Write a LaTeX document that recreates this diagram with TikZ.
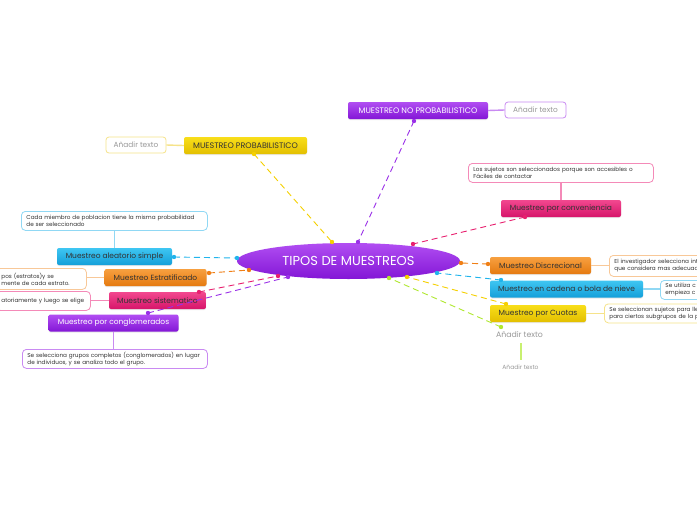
\documentclass[tikz,border=0pt]{standalone}
\usepackage{fontspec}
\setmainfont{Poppins}
\usetikzlibrary{shapes.geometric,shadows}
\definecolor{purT}{HTML}{B14EF2}\definecolor{purB}{HTML}{8316D6}
\definecolor{yelT}{HTML}{F8DE1A}\definecolor{yelB}{HTML}{E3BF00}
\definecolor{pinT}{HTML}{F2488F}\definecolor{pinB}{HTML}{D6156A}
\definecolor{oraT}{HTML}{F7A040}\definecolor{oraB}{HTML}{E57A10}
\definecolor{bluT}{HTML}{3FC6F2}\definecolor{bluB}{HTML}{149FD9}
\definecolor{bluL}{HTML}{90D8F4}\definecolor{oraL}{HTML}{F8C898}
\definecolor{pinL}{HTML}{F48AB8}\definecolor{purL}{HTML}{C98AF2}
\definecolor{yelL}{HTML}{F6E38A}\definecolor{greL}{HTML}{C8F070}
\definecolor{bluD}{HTML}{20B4EC}\definecolor{oraD}{HTML}{F07F15}
\definecolor{pinD}{HTML}{E8206F}\definecolor{purD}{HTML}{9A30E8}
\definecolor{yelD}{HTML}{F5D000}\definecolor{greD}{HTML}{B0E830}
\definecolor{txt}{HTML}{333333}\definecolor{gtx}{HTML}{999999}
\begin{document}
\begin{tikzpicture}[x=1pt,y=-1pt,
  topic/.style={rounded corners=2pt, minimum height=17, inner sep=0pt,
    font=\fontsize{7.5}{8}\selectfont, text=txt,
    drop shadow={opacity=0.18, shadow xshift=0pt, shadow yshift=-1pt}},
  capsfont/.style={font=\fontsize{8}{9}\selectfont},
  tblue/.style={topic, top color=bluT, bottom color=bluB},
  torange/.style={topic, top color=oraT, bottom color=oraB},
  tpink/.style={topic, top color=pinT, bottom color=pinB},
  tpurple/.style={topic, top color=purT, bottom color=purB, text=white},
  tyellow/.style={topic, top color=yelT, bottom color=yelB},
  note/.style={draw, fill=white, rounded corners=4pt, line width=0.8pt,
    inner xsep=5pt, inner ysep=2pt, align=left, anchor=north west,
    minimum height=19, font=\fontsize{5.7}{7}\selectfont, text=txt},
  addbox/.style={draw, fill=white, rounded corners=3pt, line width=0.8pt,
    minimum height=16, inner sep=0pt, font=\fontsize{7.4}{8}\selectfont, text=gtx},
  link/.style={line width=1.4pt},
  dsh/.style={line width=0.9pt, dash pattern=on 6pt off 4pt},
]
\useasboundingbox (0,0) rectangle (697,520);
\clip (0,0) rectangle (697,520);
\fill[white] (0,0) rectangle (697,520);

% central
\node[ellipse, minimum width=223, minimum height=36, inner sep=0pt,
  top color=purT, bottom color=purB, text=white,
  font=\fontsize{13}{15}\selectfont] (c) at (348.5,261) {TIPOS DE MUESTREOS};

% MUESTREO NO PROBABILISTICO
\node[tpurple, minimum width=140, capsfont] (np) at (418,110.5) {MUESTREO NO PROBABILISTICO};
\node[addbox, draw=purL, minimum width=61] (npa) at (535.5,110) {Añadir texto};
\draw[link, purL] (np.east) -- (npa.west);

% MUESTREO PROBABILISTICO
\node[tyellow, minimum width=123, capsfont] (p) at (245.5,145.5) {MUESTREO PROBABILISTICO};
\node[addbox, draw=yelL, minimum width=60] (pa) at (136,145) {Añadir texto};
\draw[link, yelL] (p.west) -- (pa.east);

% Muestreo por conveniencia
\node[tpink, minimum width=120] (conv) at (561,208.5) {Muestreo por conveniencia};
\node[note, draw=pinL, text width=175] (convn) at (468,163)
  {\mbox{Los sujetos son seleccionados porque son accesibles o}\\\mbox{Fáciles de contactar}};
\draw[link, pinL] (convn.south -| conv.north) -- (conv.north);

% Muestreo Discrecional
\node[torange, minimum width=101] (disc) at (540.5,265.5) {Muestreo Discrecional};
\node[note, draw=oraL, text width=140, minimum height=21] (discn) at (609,255)
  {\mbox{El investigador selecciona int}\\\mbox{que considera mas adecuad}};
\draw[link, oraL] (disc.east) -- (disc.east -| discn.west);

% Muestreo en cadena
\node[tblue, minimum width=153] (cad) at (566.5,289) {Muestreo en cadena o bola de nieve};
\node[note, draw=bluL, text width=90] (cadn) at (660,280)
  {\mbox{Se utiliza c}\\\mbox{empieza c}};
\draw[link, bluL] (cad.east) -- (cad.east -| cadn.west);

% Muestreo por Cuotas
\node[tyellow, minimum width=96] (cuo) at (538,313.5) {Muestreo por Cuotas};
\node[note, draw=yelL, text width=140] (cuon) at (604,303.5)
  {\mbox{Se seleccionan sujetos para lle}\\\mbox{para ciertos subgrupos de la p}};
\draw[link, yelL] (cuo.east) -- (cuo.east -| cuon.west);

% Añadir texto (green)
\node[inner sep=1pt, font=\fontsize{7.8}{9}\selectfont, text=gtx] (ga) at (519.5,335) {Añadir texto};
\node[inner sep=1pt, font=\fontsize{6}{7}\selectfont, text=gtx] (gb) at (520.5,367) {Añadir texto};
\coordinate (gl1) at (521,343);
\coordinate (gl2) at (521,360);
\draw[link, greL] (gl1) -- (gl2);

% Muestreo aleatorio simple
\node[tblue, minimum width=115] (ale) at (114.5,256.5) {Muestreo aleatorio simple};
\node[note, draw=bluL, text width=176] (alen) at (21,211)
  {\mbox{Cada miembro de poblacion tiene la misma probabilidad}\\\mbox{de ser seleccionado}};
\draw[link, bluL] (alen.south -| ale.north) -- (ale.north);

% Muestreo Estratificado
\node[torange, minimum width=102] (est) at (155.5,277.5) {Muestreo Estratificado};
\node[note, draw=oraL, text width=80, minimum height=21] (estn) at (-4,268)
  {\mbox{pos (estratos)y se}\\\mbox{mente de cada estrato.}};
\draw[link, oraL] (est.west) -- (est.west -| estn.east);

% Muestreo sistematico
\node[tpink, minimum width=97] (sis) at (157.5,300.5) {Muestreo sistematico};
\node[note, draw=pinL, text width=84] (sisn) at (-4,291)
  {\mbox{atoriamente y luego se elige}};
\draw[link, pinL] (sis.west) -- (sis.west -| sisn.east);

% Muestreo por conglomerados
\node[tpurple, minimum width=130] (con) at (113.5,323) {Muestreo por conglomerados};
\node[note, draw=purL, text width=175] (conn) at (22,349)
  {\mbox{Se selecciona grupos completos (conglomerados) en lugar}\\\mbox{de individuos, y se analiza todo el grupo.}};
\draw[link, purL] (con.south) -- (con.south |- conn.north);

% dashed connectors with dot ends
\coordinate (npD) at (414,121);   \coordinate (cNP) at (358,242);
\coordinate (pD) at (254,154);    \coordinate (cP) at (332,242);
\coordinate (convD) at (525,217); \coordinate (cConv) at (413,244);
\coordinate (discD) at (488,264); \coordinate (cDisc) at (461,263);
\coordinate (cadD) at (501,280);  \coordinate (cCad) at (437,273);
\coordinate (cuoD) at (506,304);  \coordinate (cCuo) at (407,277);
\coordinate (gD) at (501,327);    \coordinate (cG) at (389,278);
\coordinate (aleD) at (174,257);  \coordinate (cAle) at (237,258);
\coordinate (estD) at (209,273);  \coordinate (cEst) at (249,270);
\coordinate (sisD) at (199,292);  \coordinate (cSis) at (278,276);
\coordinate (conD) at (148,313);  \coordinate (cCon) at (288,277);

\foreach \a/\b/\col in {npD/cNP/purD, pD/cP/yelD, convD/cConv/pinD, discD/cDisc/oraD,
  cadD/cCad/bluD, cuoD/cCuo/yelD, gD/cG/greD, aleD/cAle/bluD, estD/cEst/oraD,
  sisD/cSis/pinD, conD/cCon/purD}{
  \draw[dsh, \col] (\a) -- (\b);
  \fill[\col] (\a) circle (2.2);
  \fill[\col] (\b) circle (2.2);
}
\end{tikzpicture}
\end{document}
